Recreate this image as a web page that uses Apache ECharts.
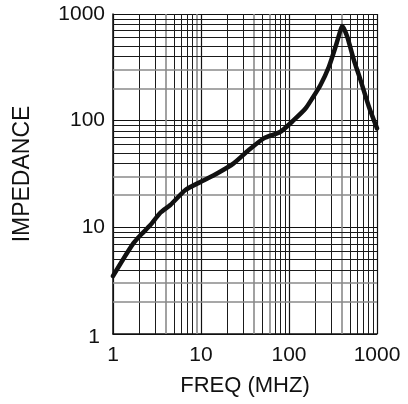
<!DOCTYPE html>
<html>
<head>
<meta charset="utf-8">
<script src="https://cdn.jsdelivr.net/npm/echarts@6/dist/echarts.min.js"></script>
<style>html,body{margin:0;padding:0;background:#fff}#c{width:408px;height:404px}</style>
</head>
<body>
<div id="c"></div>
<script>
// Frequency (MHz) and impedance
const freq = [1, 1.3, 1.71, 2.1, 2.66, 3.45, 4.48, 6.65, 10, 15.2, 23.5, 34.9, 51.7, 80, 113, 154, 184, 228, 284, 338, 385, 403, 459, 546, 650, 809, 1000];
const impedance = [3.5, 5.0, 7.1, 8.6, 10.5, 13.7, 16.2, 22.4, 26.8, 32, 39.8, 53, 68.2, 78.7, 101, 130, 162, 216, 320, 493, 706, 771, 611, 370, 240, 135, 84.7];
// Axis ticks and grid lines
const xTicks = [1, 10, 100, 1000];
const yTicks = [1, 10, 100, 1000];
const xMinor = [2,3,4,5,6,7,8,9,20,30,40,50,60,70,80,90,200,300,400,500,600,700,800,900];
const xMinorGray = [4,9,40,60,400];
const yMinor = [2,3,4,5,6,7,8,9,20,30,40,50,60,70,80,90,200,300,400,500,600,700,800,900];
const yMinorGray = [2,3,20,30,200,300];

const FONT = 'Liberation Sans, Arial, sans-serif';
const chart = echarts.init(document.getElementById('c'), null, {renderer: 'canvas'});

const vLines = xMinor.map(v => ({xAxis: v, lineStyle: {color: xMinorGray.includes(v) ? '#8a8a8a' : '#1a1a1a', width: xMinorGray.includes(v) ? 1.6 : 1, type: 'solid'}}));
const hLines = yMinor.map(v => ({yAxis: v, lineStyle: {color: yMinorGray.includes(v) ? '#8a8a8a' : '#1a1a1a', width: yMinorGray.includes(v) ? 1.6 : 1, type: 'solid'}}));

chart.setOption({
  animation: false,
  backgroundColor: '#fff',
  grid: {left: 113, right: 31, top: 14, bottom: 70, containLabel: false},
  xAxis: {
    type: 'log', logBase: 10, min: 1, max: 1000,
    name: 'FREQ (MHZ)', nameLocation: 'middle', nameGap: 41,
    nameTextStyle: {fontFamily: FONT, fontSize: 22, color: '#111'},
    axisLine: {show: true, lineStyle: {color: '#111', width: 1.5}},
    axisTick: {show: false},
    axisLabel: {fontFamily: FONT, fontSize: 21, color: '#111', margin: 11, showMinLabel: true, showMaxLabel: true,
      formatter: v => xTicks.includes(Math.round(v)) ? String(Math.round(v)) : ''},
    splitLine: {show: true, lineStyle: {color: '#111', width: 1.2}},
    minorTick: {show: false}, minorSplitLine: {show: false}
  },
  yAxis: {
    type: 'log', logBase: 10, min: 1, max: 1000,
    name: 'IMPEDANCE', nameLocation: 'middle', nameGap: 79,
    nameTextStyle: {fontFamily: FONT, fontSize: 23, color: '#111'},
    axisLine: {show: true, lineStyle: {color: '#111', width: 1.5}},
    axisTick: {show: false},
    axisLabel: {fontFamily: FONT, fontSize: 21, color: '#111', margin: 8, showMinLabel: true, showMaxLabel: true,
      formatter: v => { const r = Math.round(v); if (!yTicks.includes(r)) return ''; return r === 1 ? '{o|1}' : String(r); },
      rich: {o: {fontFamily: FONT, fontSize: 21, color: '#111', padding: [6, 5, 0, 0]}}},
    splitLine: {show: true, lineStyle: {color: '#111', width: 1.2}},
    minorTick: {show: false}, minorSplitLine: {show: false}
  },
  series: [
    {
      type: 'line', data: [[1, 1]], symbol: 'none', showSymbol: false, z: 1,
      lineStyle: {width: 0, opacity: 0}, silent: true,
      markLine: {silent: true, symbol: ['none', 'none'], label: {show: false}, animation: false,
        data: vLines.concat(hLines)}
    },
    {
      type: 'line', z: 5,
      data: freq.map((f, i) => [f, impedance[i]]),
      symbol: 'none', smooth: 0.2,
      lineStyle: {color: '#111', width: 4.5, cap: 'round', join: 'round'}
    }
  ]
});
</script>
</body>
</html>
